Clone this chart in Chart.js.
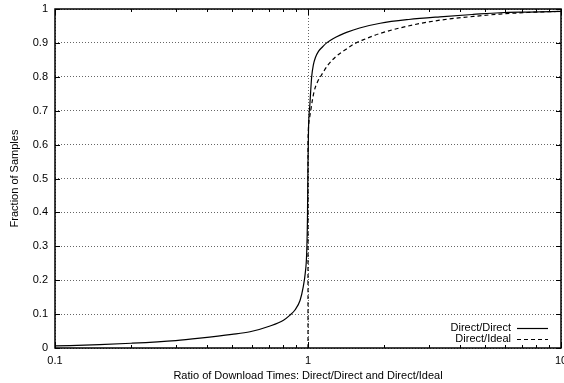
<!DOCTYPE html>
<html>
<head>
<meta charset="utf-8">
<script src="https://cdn.jsdelivr.net/npm/chart.js@4"></script>
<style>
  html, body { margin: 0; padding: 0; background: #fff; overflow: hidden; }
  canvas { display: block; }
</style>
</head>
<body>
<canvas id="cdfCanvas" width="572" height="383"></canvas>
<script>
// Direct/Direct の比率 (x) と累積割合 (y)
const directX = [0.1, 0.15, 0.2, 0.3, 0.374, 0.5, 0.59, 0.708, 0.8, 0.849, 0.888, 0.93, 0.958, 0.975, 0.988, 0.995, 1.0, 1.005, 1.018, 1.034, 1.05, 1.07, 1.1, 1.14, 1.185, 1.26, 1.34, 1.42, 1.6, 1.93, 2.5, 3.32, 4.5, 5.74, 7.5, 10];
const directY = [0.006, 0.010, 0.014, 0.022, 0.029, 0.040, 0.048, 0.065, 0.082, 0.097, 0.112, 0.14, 0.181, 0.22, 0.279, 0.38, 0.55, 0.65, 0.722, 0.80, 0.835, 0.857, 0.875, 0.888, 0.90, 0.913, 0.923, 0.931, 0.944, 0.958, 0.969, 0.977, 0.984, 0.989, 0.991, 0.993];

// Direct/Ideal
const idealX = [1.0, 1.0, 1.005, 1.015, 1.025, 1.04, 1.06, 1.09, 1.13, 1.2, 1.3, 1.42, 1.53, 1.65, 1.93, 2.6, 3.32, 4.5, 5.74, 7.5, 10];
const idealY = [0, 0.62, 0.655, 0.68, 0.70, 0.73, 0.76, 0.785, 0.805, 0.835, 0.862, 0.882, 0.898, 0.909, 0.928, 0.953, 0.967, 0.978, 0.985, 0.990, 0.993];

const seriesLabels = ['Direct/Direct', 'Direct/Ideal'];
const xTickValues = [0.1, 1, 10];
const xMinorValues = [0.2, 0.3, 0.4, 0.5, 0.6, 0.7, 0.8, 0.9, 2, 3, 4, 5, 6, 7, 8, 9];
const yTickValues = [0, 0.1, 0.2, 0.3, 0.4, 0.5, 0.6, 0.7, 0.8, 0.9, 1];
const xTitle = 'Ratio of Download Times: Direct/Direct and Direct/Ideal';
const yTitle = 'Fraction of Samples';

const FONT = 'Liberation Sans, Arial, Helvetica, sans-serif';

const toPoints = (xs, ys) => xs.map((x, i) => ({ x: x, y: ys[i] }));

// 枠・目盛り・凡例を描画
const framePlugin = {
  id: 'frame',
  afterDatasetsDraw(chart) {
    const { ctx, chartArea: a, scales } = chart;
    const xs = scales.x, ys = scales.y;
    ctx.save();
    ctx.strokeStyle = '#000';
    ctx.lineWidth = 1;
    ctx.setLineDash([]);
    ctx.beginPath();
    yTickValues.forEach(v => {
      const y = Math.round(ys.getPixelForValue(v)) + 0.5;
      ctx.moveTo(a.left, y); ctx.lineTo(a.left + 5, y);
      ctx.moveTo(a.right, y); ctx.lineTo(a.right - 5, y);
    });
    xTickValues.forEach(v => {
      const x = Math.round(xs.getPixelForValue(v)) + 0.5;
      ctx.moveTo(x, a.bottom); ctx.lineTo(x, a.bottom - 6);
      ctx.moveTo(x, a.top); ctx.lineTo(x, a.top + 6);
    });
    xMinorValues.forEach(v => {
      const x = Math.round(xs.getPixelForValue(v)) + 0.5;
      ctx.moveTo(x, a.bottom); ctx.lineTo(x, a.bottom - 3);
      ctx.moveTo(x, a.top); ctx.lineTo(x, a.top + 3);
    });
    ctx.stroke();

    ctx.lineWidth = 1.5;
    ctx.strokeRect(a.left, a.top, a.right - a.left, a.bottom - a.top);

    // 凡例
    ctx.font = '11px ' + FONT;
    ctx.fillStyle = '#000';
    ctx.textAlign = 'right';
    ctx.textBaseline = 'middle';
    const rows = [328, 339];
    chart.data.datasets.forEach((ds, i) => {
      ctx.fillText(ds.label, 511, rows[i]);
      ctx.lineWidth = 1.2;
      ctx.setLineDash(ds.borderDash || []);
      ctx.beginPath();
      ctx.moveTo(517, rows[i] + 0.5);
      ctx.lineTo(548, rows[i] + 0.5);
      ctx.stroke();
    });
    ctx.restore();
  }
};

new Chart(document.getElementById('cdfCanvas'), {
  type: 'line',
  data: {
    datasets: [
      {
        label: seriesLabels[0],
        data: toPoints(directX, directY),
        borderColor: '#000',
        borderWidth: 1.2,
        pointRadius: 0,
        cubicInterpolationMode: 'monotone',
        fill: false
      },
      {
        label: seriesLabels[1],
        data: toPoints(idealX, idealY),
        borderColor: '#000',
        borderWidth: 1.2,
        borderDash: [4, 3],
        pointRadius: 0,
        cubicInterpolationMode: 'monotone',
        fill: false
      }
    ]
  },
  options: {
    responsive: false,
    animation: false,
    layout: { padding: { top: 9, left: 0, right: 11, bottom: 0 } },
    plugins: { legend: { display: false }, tooltip: { enabled: false } },
    scales: {
      x: {
        type: 'logarithmic',
        min: 0.1,
        max: 10,
        afterBuildTicks: scale => { scale.ticks = xTickValues.map(v => ({ value: v })); },
        afterFit: scale => {
          scale.height = 35;
          scale.paddingLeft = 0;
          scale.paddingRight = 0;
        },
        ticks: {
          color: '#000',
          padding: 6,
          maxRotation: 0,
          autoSkip: false,
          font: { family: FONT, size: 11 },
          callback: v => String(v)
        },
        grid: { color: '#666', lineWidth: 1, drawTicks: false },
        border: { display: false, dash: [1, 2] },
        title: {
          display: true,
          text: xTitle,
          color: '#000',
          font: { family: FONT, size: 11 },
          padding: { top: 4, bottom: 0 }
        }
      },
      y: {
        type: 'linear',
        min: 0,
        max: 1,
        afterBuildTicks: scale => { scale.ticks = yTickValues.map(v => ({ value: v })); },
        afterFit: scale => {
          scale.width = 55;
          scale.paddingTop = 0;
          scale.paddingBottom = 0;
        },
        ticks: {
          color: '#000',
          padding: 7,
          font: { family: FONT, size: 11 },
          callback: v => String(+v.toFixed(1))
        },
        grid: { color: '#666', lineWidth: 1, drawTicks: false },
        border: { display: false, dash: [1, 2] },
        title: {
          display: true,
          text: yTitle,
          color: '#000',
          font: { family: FONT, size: 11 },
          padding: { top: 8, bottom: 8 }
        }
      }
    }
  },
  plugins: [framePlugin]
});
</script>
</body>
</html>
